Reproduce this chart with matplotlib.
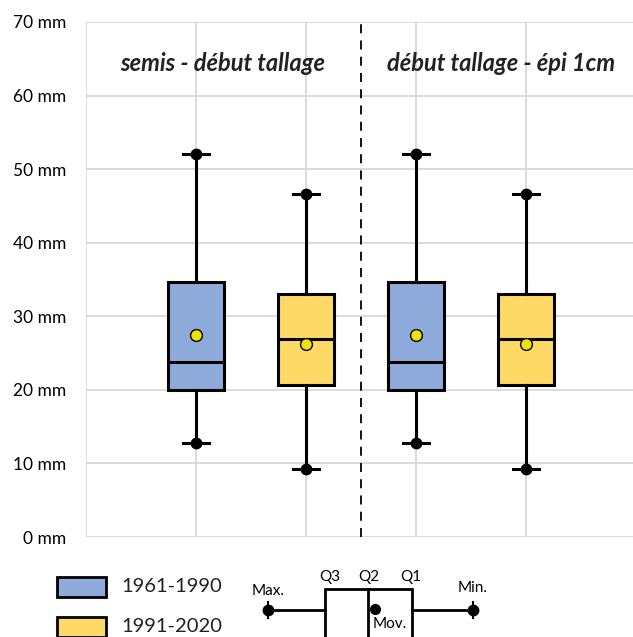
import matplotlib.pyplot as plt
import numpy as np

# stats per box : 1961-1990 / 1991-2020, two periods
periods = ["semis - début tallage", "début tallage - épi 1cm"]
series = ["1961-1990", "1991-2020"]
colors = ["#8eaadb", "#ffd966"]
whislo = [12.8, 9.2, 12.8, 9.2]
q1 = [20.0, 20.7, 20.0, 20.7]
med = [23.8, 26.9, 23.8, 26.9]
q3 = [34.6, 33.0, 34.6, 33.0]
whishi = [52.1, 46.6, 52.1, 46.6]
mean = [27.5, 26.3, 27.5, 26.3]
yticks = [0, 10, 20, 30, 40, 50, 60, 70]

plt.rcParams['font.family'] = ['Lato', 'DejaVu Sans']

fig = plt.figure(figsize=(6.33, 6.37), dpi=100)
ax = fig.add_axes([86/633, 1-537/637, 550/633, (537-22)/637])

pos = np.arange(1, len(med)+1)
stats = []
for i in range(len(med)):
    stats.append(dict(whislo=whislo[i], q1=q1[i], med=med[i], q3=q3[i],
                      whishi=whishi[i], mean=mean[i], fliers=[]))

bp = ax.bxp(stats, positions=pos, widths=0.51, patch_artist=True,
            showmeans=True, showcaps=True, capwidths=0.24,
            boxprops=dict(linewidth=2.2, edgecolor='black'),
            medianprops=dict(color='black', linewidth=2.2),
            whiskerprops=dict(color='black', linewidth=2.2),
            capprops=dict(color='black', linewidth=2.2),
            meanprops=dict(marker='o', markerfacecolor='#ece400',
                           markeredgecolor='black', markersize=8.5,
                           markeredgewidth=1))
for i, b in enumerate(bp['boxes']):
    b.set_facecolor(colors[i % 2])
    b.set_zorder(3)
for k in ['whiskers', 'caps', 'medians', 'means']:
    for a in bp[k]:
        a.set_zorder(4)
ax.plot(pos, whislo, 'o', color='black', markersize=7.5, zorder=5)
ax.plot(pos, whishi, 'o', color='black', markersize=7.5, zorder=5)

ax.axvline(2.5, color='black', linestyle=(0, (5, 4)), linewidth=1.3, zorder=2)

ax.set_xlim(0, 5)
ax.set_ylim(0, 70)
ax.set_yticks(yticks)
ax.set_yticklabels([f"{v} mm" for v in yticks], fontsize=12.5)
ax.set_xticks(np.arange(0, 6))
ax.set_xticklabels([])
ax.tick_params(length=0, pad=14)
ax.grid(True, color='#d5d5d5', linewidth=1.2, zorder=0)
ax.set_axisbelow(True)
for s in ax.spines.values():
    s.set_visible(False)

ax.text(1.245, 64.4, periods[0], ha='center', va='center', fontsize=17,
        fontweight='bold', style='italic', color='#222222')
ax.text(3.77, 64.4, periods[1], ha='center', va='center', fontsize=17,
        fontweight='bold', style='italic', color='#222222')

# legend drawn in pixel coords on an overlay
lg = fig.add_axes([0, 0, 1, 1])
lg.set_xlim(0, 633)
lg.set_ylim(637, 0)
lg.axis('off')
for i, y0 in enumerate([577, 617]):
    lg.add_patch(plt.Rectangle((57, y0), 49, 20, facecolor=colors[i],
                               edgecolor='black', linewidth=2))
    lg.text(121, y0 + 10, series[i], va='center', ha='left', fontsize=14.5,
            color='#222222')

lg.plot([268, 325], [610, 610], color='black', linewidth=2)
lg.plot([412, 473], [610, 610], color='black', linewidth=2)
lg.add_patch(plt.Rectangle((325, 589), 87, 60, facecolor='white',
                           edgecolor='black', linewidth=2))
lg.plot([368, 368], [589, 640], color='black', linewidth=2)
lg.plot([268, 473], [610, 610], 'o', color='black', markersize=7.5, linestyle='none')
lg.plot([268, 268, np.nan, 473, 473], [602, 618, np.nan, 602, 618], color='black', linewidth=1.5)
lg.plot([375], [609], 'o', color='black', markersize=7)
lg.text(330, 577, "Q3", ha='center', va='center', fontsize=11)
lg.text(369, 577, "Q2", ha='center', va='center', fontsize=11)
lg.text(411, 577, "Q1", ha='center', va='center', fontsize=11)
lg.text(268, 591, "Max.", ha='center', va='center', fontsize=11)
lg.text(473, 588, "Min.", ha='center', va='center', fontsize=11)
lg.text(390, 624, "Mov.", ha='center', va='center', fontsize=11)

fig.savefig("out.png", dpi=100)
